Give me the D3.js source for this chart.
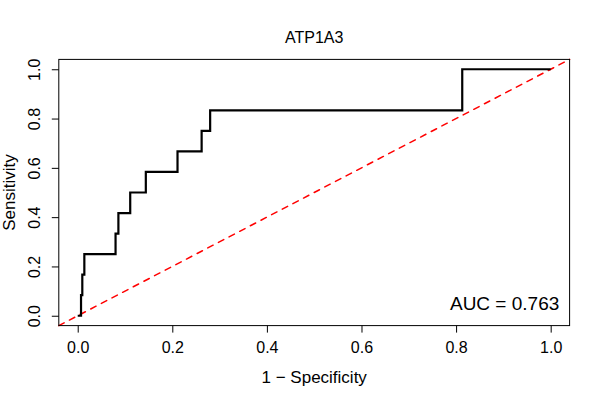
<!DOCTYPE html>
<html>
<head>
<meta charset="utf-8">
<script src="https://cdn.jsdelivr.net/npm/d3@7"></script>
<style>
  body { margin: 0; background: #fff; }
  text { font-family: "Liberation Sans", Arial, Helvetica, sans-serif; fill: #000; }
</style>
</head>
<body>
<div id="chart"></div>
<script>
// ROC curve for ATP1A3 (corners of the step function)
const fpr = [0, 0.007, 0.0097, 0.014, 0.080, 0.086, 0.111, 0.144, 0.211, 0.262, 0.280, 0.813, 1.0];
const sens = [0, 1/12, 2/12, 3/12, 4/12, 5/12, 6/12, 7/12, 8/12, 9/12, 10/12, 1, 1];
const xTicks = [0, 0.2, 0.4, 0.6, 0.8, 1.0];
const yTicks = [0, 0.2, 0.4, 0.6, 0.8, 1.0];
const title = "ATP1A3";
const aucLabel = "AUC = 0.763";

const width = 600, height = 400;
const plot = { left: 58.8, right: 569.6, top: 59.4, bottom: 325.6 };

const svg = d3.select("#chart").append("svg")
    .attr("width", width).attr("height", height);

svg.append("rect").attr("width", width).attr("height", height).attr("fill", "#fff");

// R style 4% extended domain
const x = d3.scaleLinear().domain([-0.04, 1.04]).range([plot.left, plot.right]);
const y = d3.scaleLinear().domain([-0.04, 1.04]).range([plot.bottom, plot.top]);

// chance diagonal
svg.append("line")
    .attr("x1", x(-0.04)).attr("y1", y(-0.04))
    .attr("x2", x(1.04)).attr("y2", y(1.04))
    .attr("stroke", "#ff0000")
    .attr("stroke-width", 1.5)
    .attr("stroke-linecap", "round")
    .attr("stroke-dasharray", "6,6");

// ROC curve
const line = d3.line()
    .x((d, i) => x(fpr[i]))
    .y((d, i) => y(sens[i]))
    .curve(d3.curveStepAfter);

svg.append("path")
    .datum(fpr)
    .attr("d", line)
    .attr("fill", "none")
    .attr("stroke", "#000")
    .attr("stroke-width", 2.2);

// box
svg.append("rect")
    .attr("x", plot.left).attr("y", plot.top)
    .attr("width", plot.right - plot.left)
    .attr("height", plot.bottom - plot.top)
    .attr("fill", "none")
    .attr("stroke", "#000")
    .attr("stroke-width", 1);

// axes
const fmt = d3.format(".1f");
const xAxis = d3.axisBottom(x).tickValues(xTicks).tickFormat(fmt).tickSize(7).tickPadding(8);
const gx = svg.append("g")
    .attr("transform", `translate(0,${plot.bottom})`)
    .call(xAxis);
gx.select(".domain").remove();
gx.selectAll("text").attr("font-size", 16).attr("font-family", null).attr("dy", null).attr("y", 27.5);

const yAxis = d3.axisLeft(y).tickValues(yTicks).tickFormat(fmt).tickSize(7);
const gy = svg.append("g")
    .attr("transform", `translate(${plot.left},0)`)
    .call(yAxis);
gy.select(".domain").remove();
gy.selectAll(".tick text")
    .attr("font-size", 16).attr("font-family", null)
    .attr("x", null).attr("dy", null)
    .attr("text-anchor", "middle")
    .attr("transform", "translate(-19,0) rotate(-90)");

gx.selectAll("line").attr("stroke", "#000");
gy.selectAll("line").attr("stroke", "#000");

// titles
svg.append("text")
    .attr("x", (plot.left + plot.right) / 2).attr("y", 42.7)
    .attr("text-anchor", "middle").attr("font-size", 16)
    .text(title);

svg.append("text")
    .attr("x", (plot.left + plot.right) / 2).attr("y", 382.5)
    .attr("text-anchor", "middle").attr("font-size", 17)
    .text("1 \u2212 Specificity");

svg.append("text")
    .attr("transform", `translate(14.5,${(plot.top + plot.bottom) / 2}) rotate(-90)`)
    .attr("text-anchor", "middle").attr("font-size", 17)
    .text("Sensitivity");

svg.append("text")
    .attr("x", 559.3).attr("y", 310)
    .attr("text-anchor", "end").attr("font-size", 19)
    .text(aucLabel);
</script>
</body>
</html>
